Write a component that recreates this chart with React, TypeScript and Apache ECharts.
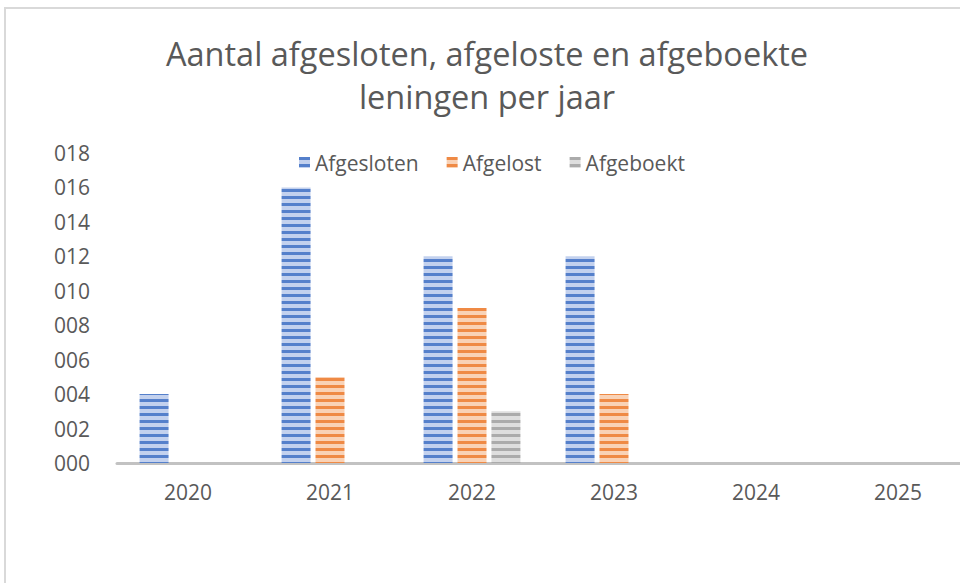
import React, { useEffect, useRef } from 'react';
import * as echarts from 'echarts';

const categories = ['2020', '2021', '2022', '2023', '2024', '2025'];
const afgesloten = [4, 16, 12, 12, 0, 0];
const afgelost = [0, 5, 9, 4, 0, 0];
const afgeboekt = [0, 0, 3, 0, 0, 0];
const seriesNames = ['Afgesloten', 'Afgelost', 'Afgeboekt'];
const titleLines = ['Aantal afgesloten, afgeloste en afgeboekte', 'leningen per jaar'];
const yMin = 0;
const yMax = 18;
const yInterval = 2;

const FONT = '"Open Sans", "Noto Sans", sans-serif';
const TEXT = '#595959';

function stripe(dark: string, light: string) {
  const c = document.createElement('canvas');
  c.width = 4;
  c.height = 7;
  const ctx = c.getContext('2d')!;
  ctx.fillStyle = light;
  ctx.fillRect(0, 0, 4, 7);
  ctx.fillStyle = dark;
  ctx.fillRect(0, 0, 4, 3);
  return { image: c.toDataURL(), repeat: 'repeat', imageWidth: 4, imageHeight: 7 } as any;
}

export default function App() {
  const ref = useRef<HTMLDivElement>(null);
  useEffect(() => {
    if (!ref.current) return;
    const chart = echarts.init(ref.current, undefined, { renderer: 'svg' });
    const colors = [
      stripe('#5580cb', '#c3d1ee'),
      stripe('#ef8a45', '#f9d2b6'),
      stripe('#ababab', '#dedede'),
    ];
    const data = [afgesloten, afgelost, afgeboekt];
    chart.setOption({
      animation: false,
      graphic: [
        {
          type: 'rect',
          shape: { x: 5, y: 8, width: 2000, height: 2000 },
          style: { fill: 'none', stroke: '#d9d9d9', lineWidth: 2 },
          silent: true,
          z: -10,
        },
        {
          type: 'text',
          x: 487,
          y: 75,
          style: {
            text: titleLines.join('\n'),
            font: `32.5px ${FONT}`,
            fill: TEXT,
            align: 'center',
            verticalAlign: 'middle',
            lineHeight: 43,
          },
        },
      ],
      legend: {
        data: seriesNames,
        left: 294,
        top: 147,
        itemWidth: 11,
        itemHeight: 11,
        itemGap: 28,
        icon: 'rect',
        textStyle: { color: TEXT, fontFamily: FONT, fontSize: 21 },
      },
      grid: { left: 117, right: 31, top: 153, bottom: 120, containLabel: false },
      xAxis: {
        type: 'category',
        data: categories,
        axisLine: { lineStyle: { color: '#c2c2c2', width: 3 } },
        axisTick: { show: false },
        axisLabel: { color: TEXT, fontFamily: FONT, fontSize: 21, margin: 18 },
      },
      yAxis: {
        type: 'value',
        min: yMin,
        max: yMax,
        interval: yInterval,
        splitLine: { show: false },
        axisLine: { show: false },
        axisTick: { show: false },
        axisLabel: {
          color: TEXT,
          fontFamily: FONT,
          fontSize: 21,
          margin: 27,
          formatter: (v: number) => String(v).padStart(3, '0'),
        },
      },
      series: seriesNames.map((name, i) => ({
        name,
        type: 'bar',
        data: data[i],
        barWidth: 29,
        barGap: '17%',
        itemStyle: { color: colors[i] },
      })),
    });
    return () => chart.dispose();
  }, []);
  return (
    <div style={{ position: 'fixed', left: 0, top: 0, width: 960, height: 583, overflow: 'hidden', background: '#fff' }}>
      <div ref={ref} style={{ width: 1000, height: 583 }} />
    </div>
  );
}
